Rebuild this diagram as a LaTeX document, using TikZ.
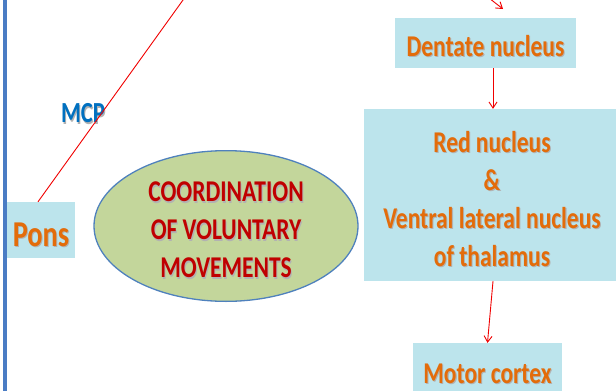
\documentclass[tikz,border=0pt]{standalone}
\usepackage{fontspec}
\setmainfont{Carlito}
\usetikzlibrary{arrows.meta,shapes.geometric}
\definecolor{boxfill}{HTML}{BCE4EC}
\definecolor{txtorange}{HTML}{E36C0A}
\definecolor{txtred}{HTML}{C00000}
\definecolor{ellfill}{HTML}{C3D69B}
\definecolor{ellline}{HTML}{4F81BD}
\definecolor{mcpblue}{HTML}{0070C0}
\definecolor{barblue}{HTML}{4A7CC4}
\definecolor{arrred}{HTML}{F00000}
\newcommand\shd[1]{\scalebox{0.81}[1.04]{\rlap{\kern1.3pt\raisebox{-1.3pt}{\textcolor{black!30}{#1}}}#1}}
\tikzset{
  cbox/.style={fill=boxfill, draw=none, text=txtorange, inner sep=0pt, align=center,
    font=\bfseries\fontsize{29}{38}\selectfont},
  conn/.style={arrred, line width=0.9pt},
  arr/.style={conn, -{Straight Barb[length=6pt,width=8pt,line width=0.9pt]}},
}
\begin{document}
\begin{tikzpicture}[x=1pt,y=-1pt]
\useasboundingbox (0,0) rectangle (616,391);
\clip (0,0) rectangle (616,391);
\draw[barblue, line width=3.5pt] (5,-5) -- (5,396);

\node[cbox, minimum width=68pt, minimum height=56pt, text height=33pt, text depth=0pt, font=\bfseries\fontsize{35}{40}\selectfont] (pons) at (41,230) {\shd{Pons}};
\node[cbox, minimum width=181pt, minimum height=50pt, text height=27pt, text depth=0pt] (dent) at (485.5,43) {\shd{Dentate nucleus}};
\node[cbox, minimum width=256pt, minimum height=172pt] (red) at (492,195) {\rule{0pt}{30pt}\shd{Red nucleus}\\\shd{\&}\\\shd{Ventral lateral nucleus}\\\shd{of thalamus}};
\node[cbox, minimum width=149pt, minimum height=58pt, text height=23pt, text depth=0pt] (motor) at (487.5,372) {\shd{Motor cortex}};

\node[ellipse, draw=ellline, line width=1.3pt, fill=ellfill, minimum width=264pt, minimum height=134pt,
  text=txtred, align=center, inner sep=0pt, font=\bfseries\fontsize{29}{38}\selectfont] (coord) at (226,226)
  {\rule{0pt}{29pt}\shd{COORDINATION}\\\shd{OF VOLUNTARY}\\\shd{MOVEMENTS}};

\node[text=mcpblue, font=\bfseries\fontsize{28}{32}\selectfont, inner sep=0pt] (mcp) at (83,114) {\shd{MCP}};

\coordinate (mcptop) at (190.2,-10);
\coordinate (dentin) at (480,-9);
\coordinate (denttip) at (503,9);
\coordinate (arrx) at (493,0);

\draw[conn] ([xshift=-3pt]pons.north) -- (mcptop);
\draw[arr] (dentin) -- (denttip);
\draw[arr] (dent.south -| arrx) -- (red.north -| arrx);
\draw[arr] (red.south -| arrx) -- (motor.north);
\end{tikzpicture}
\end{document}
